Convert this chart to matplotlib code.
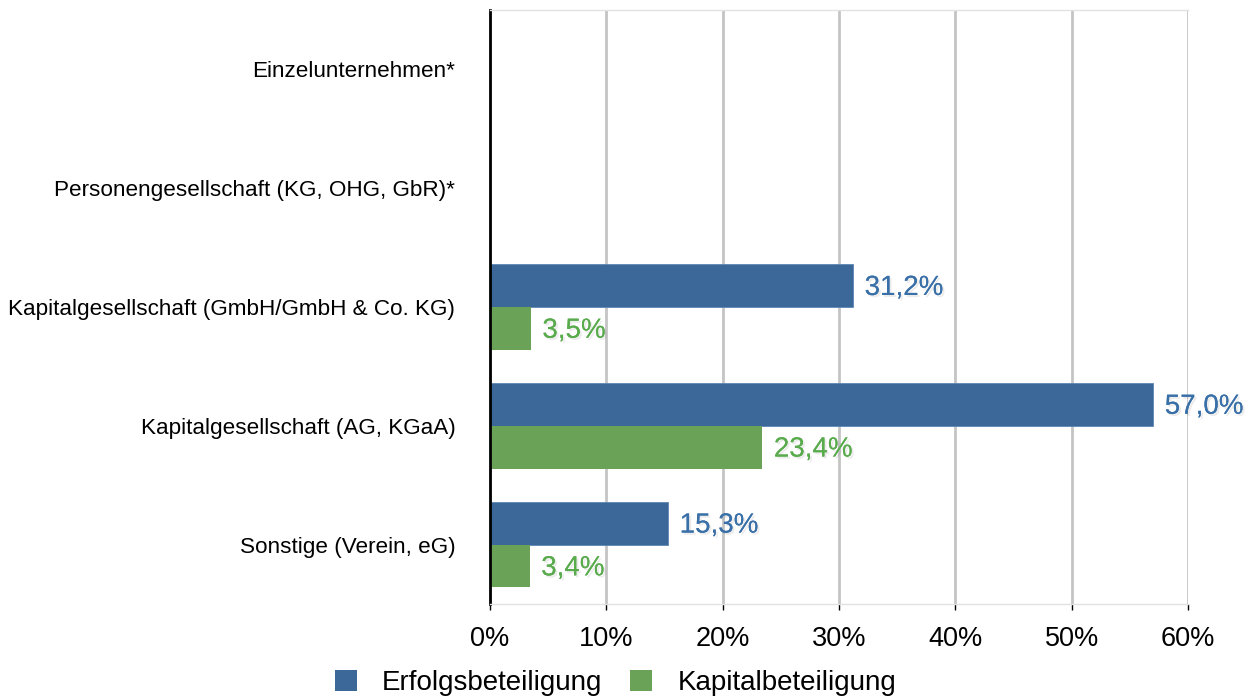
import matplotlib

matplotlib.use("Agg")
import matplotlib.pyplot as plt
import matplotlib.patheffects as pe
from matplotlib.patches import Patch
import numpy as np

categories = [
    "Einzelunternehmen*",
    "Personengesellschaft (KG, OHG, GbR)*",
    "Kapitalgesellschaft (GmbH/GmbH & Co. KG)",
    "Kapitalgesellschaft (AG, KGaA)",
    "Sonstige (Verein, eG)",
]
erfolg = [np.nan, np.nan, 31.2, 57.0, 15.3]
kapital = [np.nan, np.nan, 3.5, 23.4, 3.4]
series_names = ["Erfolgsbeteiligung", "Kapitalbeteiligung"]
xticks = [0, 10, 20, 30, 40, 50, 60]

BLUE = "#3b6898"
GREEN = "#6aa357"
BLUE_TXT = "#3a70a8"
GREEN_TXT = "#59ab4d"

plt.rcParams["font.family"] = ["Liberation Sans", "DejaVu Sans"]

fig = plt.figure(figsize=(12.52, 6.97), dpi=100)
ax = fig.add_axes([490 / 1252, 1 - 604 / 697, (1188 - 490) / 1252, 594 / 697])

y = np.arange(len(categories))
h = 0.36
shadow = [pe.withSimplePatchShadow(offset=(1.5, -1.5), shadow_rgbFace="#666666", alpha=0.12), pe.Normal()]

for i, (e, k) in enumerate(zip(erfolg, kapital)):
    if not np.isnan(e):
        ax.barh(y[i] - h / 2, e, height=h, color=BLUE, edgecolor="#5d87b5", linewidth=0.6)
        ax.text(e + 1.0, y[i] - h / 2 + 0.02, f"{e:.1f}%".replace(".", ","), va="center", ha="left",
                fontsize=20, color=BLUE_TXT, path_effects=shadow)
    if not np.isnan(k):
        ax.barh(y[i] + h / 2, k, height=h, color=GREEN)
        ax.text(k + 1.0, y[i] + h / 2 + 0.02, f"{k:.1f}%".replace(".", ","), va="center", ha="left",
                fontsize=20, color=GREEN_TXT, path_effects=shadow)

ax.set_xlim(0, 60)
ax.set_ylim(len(categories) - 0.5, -0.5)
ax.set_yticks(y)
ax.set_yticklabels(categories, fontsize=16.2)
ax.set_xticks(xticks)
ax.set_xticklabels([f"{t}%" for t in xticks], fontsize=19.5)
ax.tick_params(axis="y", length=0, pad=25)
ax.tick_params(axis="x", length=4, width=1, pad=12, color="black")

ax.set_axisbelow(True)
ax.xaxis.grid(True, color="#c4c4c4", linewidth=2)
for side in ["top", "bottom", "right"]:
    ax.spines[side].set_color("#e2e2e2")
    ax.spines[side].set_linewidth(1)
ax.spines["right"].set_visible(False)
ax.spines["left"].set_color("black")
ax.spines["left"].set_linewidth(2)

handles = [Patch(facecolor=BLUE), Patch(facecolor=GREEN)]
fig.legend(handles, series_names, loc="center", bbox_to_anchor=(0.4916, 1 - 683 / 697), ncol=2,
           frameon=False, fontsize=20, handlelength=0.8, handleheight=0.8, handletextpad=0.9,
           columnspacing=1.0, borderpad=0.2)

fig.savefig("out.png", dpi=100)
